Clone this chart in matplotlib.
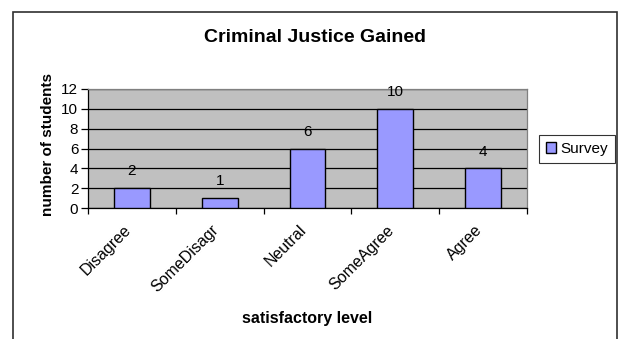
import matplotlib
matplotlib.use('Agg')

import numpy as np
import matplotlib.pyplot as plt
from matplotlib.patches import Rectangle
from matplotlib.transforms import ScaledTranslation

plt.rcParams['font.family'] = ['Liberation Sans', 'DejaVu Sans']

# survey counts per answer
levels = ['Disagree', 'SomeDisagr', 'Neutral', 'SomeAgree', 'Agree']
counts = [2, 1, 6, 10, 4]
y_ticks = [0, 2, 4, 6, 8, 10, 12]

W, H = 619, 339
fig = plt.figure(figsize=(W / 100, H / 100), dpi=100)
fig.patch.set_facecolor('white')

# outer chart frame (bottom edge runs off the page)
fig.patches.append(Rectangle((13 / W, -0.05), (617 - 13) / W, 1.05 - 12 / H,
                             transform=fig.transFigure, fill=False,
                             edgecolor='#303030', linewidth=1.2))

ax = fig.add_axes([88 / W, 1 - 208 / H, (527 - 88) / W, (208 - 89) / H])
ax.set_facecolor('#C0C0C0')

x = np.arange(len(levels))
bars = ax.bar(x, counts, width=0.41, color='#9999FF', edgecolor='black',
              linewidth=1, label='Survey', zorder=3)

for rect, val in zip(bars, counts):
    ax.annotate(str(val), (rect.get_x() + rect.get_width() / 2, val),
                xytext=(0, 7), textcoords='offset points',
                ha='center', va='bottom', fontsize=11, zorder=4)

ax.set_xlim(-0.5, len(levels) - 0.5)
ax.set_ylim(0, 12)
ax.set_yticks(y_ticks)
ax.yaxis.grid(True, color='black', linewidth=0.9, zorder=1)
ax.set_axisbelow(True)

ax.set_xticks(x)
ax.set_xticklabels(levels, rotation=45, ha='right', rotation_mode='anchor',
                   fontsize=11.5)
ax.set_xticks(np.arange(-0.5, len(levels)), minor=True)
ax.tick_params(axis='x', which='major', length=0, pad=9)
ax.tick_params(axis='x', which='minor', length=4, width=0.9, direction='out')
ax.tick_params(axis='y', length=5, width=0.9, direction='out', labelsize=11,
               pad=2)

# nudge the slanted labels left so they sit under the bars
shift = ScaledTranslation(-0.09, -0.02, fig.dpi_scale_trans)
for lbl in ax.get_xticklabels():
    lbl.set_transform(lbl.get_transform() + shift)

for side in ['left', 'bottom']:
    ax.spines[side].set_color('black')
    ax.spines[side].set_linewidth(0.9)
for side in ['top', 'right']:
    ax.spines[side].set_color('#808080')
    ax.spines[side].set_linewidth(0.9)

fig.text(48 / W, 1 - 145 / H, 'number of students', rotation=90,
         ha='center', va='center', fontsize=11, fontweight='bold')
fig.text(307 / W, 1 - 318 / H, 'satisfactory level', ha='center',
         va='center', fontsize=11.5, fontweight='bold')
fig.text(315 / W, 1 - 38 / H, 'Criminal Justice Gained', ha='center',
         va='center', fontsize=14, fontweight='bold')

leg = ax.legend(loc='center', bbox_to_anchor=(577 / W, 1 - 149 / H),
                bbox_transform=fig.transFigure, fontsize=11, frameon=True,
                fancybox=False, handlelength=0.7, handleheight=0.7,
                handletextpad=0.3, borderpad=0.45, borderaxespad=0)
leg.get_frame().set_edgecolor('black')
leg.get_frame().set_linewidth(0.8)

fig.savefig('out.png', dpi=100)
